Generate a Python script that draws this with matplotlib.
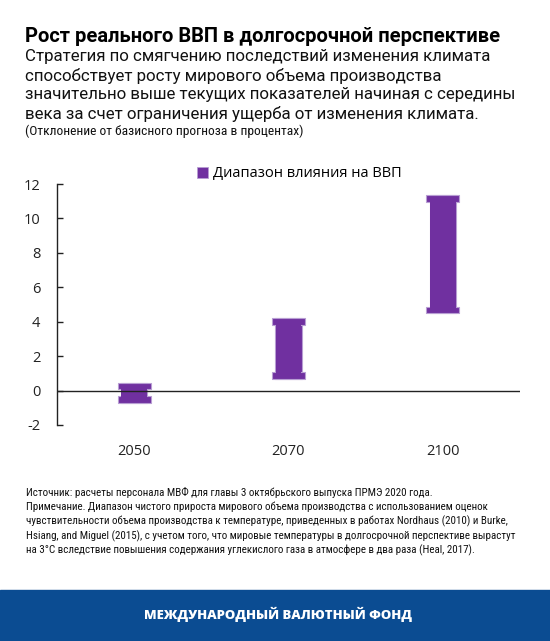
import matplotlib
matplotlib.use("Agg")
import matplotlib.pyplot as plt
from matplotlib import font_manager
from matplotlib.patches import Rectangle, Patch

# данные: диапазон влияния на ВВП, % от базисного прогноза
years = ["2050", "2070", "2100"]
low = [-0.7, 0.7, 4.5]
high = [0.45, 4.2, 11.35]
yticks = [-2, 0, 2, 4, 6, 8, 10, 12]

title = "Рост реального ВВП в долгосрочной перспективе"
subtitle = [
    "Стратегия по смягчению последствий изменения климата",
    "способствует росту мирового объема производства",
    "значительно выше текущих показателей начиная с середины",
    "века за счет ограничения ущерба от изменения климата.",
]
units = "(Отклонение от базисного прогноза в процентах)"
notes = [
    "Источник: расчеты персонала МВФ для главы 3 октябрьского выпуска ПРМЭ 2020 года.",
    "Примечание. Диапазон чистого прироста мирового объема производства с использованием оценок",
    "чувствительности объема производства к температуре, приведенных в работах Nordhaus (2010) и Burke,",
    "Hsiang, and Miguel (2015), с учетом того, что мировые температуры в долгосрочной перспективе вырастут",
    "на 3°C вследствие повышения содержания углекислого газа в атмосфере в два раза (Heal, 2017).",
]
legend_label = "Диапазон влияния на ВВП"
footer = "МЕЖДУНАРОДНЫЙ ВАЛЮТНЫЙ ФОНД"

purple = "#7030A0"
edge = "#B89ED3"
W, H = 550, 641


def narrow_font():
    # ищем узкий шрифт, если он есть
    for fam, st in [("Liberation Sans Narrow", "normal"), ("Roboto Condensed", "normal"),
                    ("DejaVu Sans", "condensed"), ("Noto Sans", "condensed")]:
        try:
            p = font_manager.findfont(font_manager.FontProperties(family=fam, stretch=st),
                                      fallback_to_default=False)
        except Exception:
            continue
        name = p.lower()
        if "narrow" in name or "condensed" in name:
            return fam, st
    return "Roboto", "normal"


nfam, nstretch = narrow_font()

fig = plt.figure(figsize=(W / 100, H / 100), dpi=100)
renderer = fig.canvas.get_renderer()


def fit(texts, target):
    # подгоняем размер шрифта под ширину строки из образца
    widest = max(t.get_window_extent(renderer).width for t in texts)
    for t in texts:
        t.set_fontsize(t.get_fontsize() * target / widest)


ax = fig.add_axes([57 / W, 1 - 425 / H, (520 - 57) / W, (425 - 184) / H])
x = list(range(len(years)))
for i in x:
    lo, hi = low[i], high[i]
    ax.bar(i, hi - lo, bottom=lo, width=0.17, color=purple, edgecolor=edge, linewidth=0.8, zorder=3)
    ax.bar(i, 0.38, bottom=hi - 0.38, width=0.215, color=purple, edgecolor=edge, linewidth=0.8, zorder=3)
    ax.bar(i, 0.38, bottom=lo, width=0.215, color=purple, edgecolor=edge, linewidth=0.8, zorder=3)
    ax.bar(i, hi - lo - 0.3, bottom=lo + 0.15, width=0.168, color=purple, linewidth=0, zorder=4)

ax.axhline(0, color="#222222", lw=1.0, zorder=5)
ax.set_xlim(-0.5, 2.5)
ax.set_ylim(-2, 12)
ax.set_yticks(yticks)
ax.set_yticklabels([str(v) for v in yticks], fontsize=10.5, family=["Open Sans", "DejaVu Sans"], color="#222222")
ax.set_xticks(x)
ax.set_xticklabels(years, fontsize=10.5, family=["Open Sans", "DejaVu Sans"], color="#222222")
for s in ["top", "right", "bottom"]:
    ax.spines[s].set_visible(False)
ax.spines["left"].set_color("#222222")
ax.spines["left"].set_linewidth(1.0)
ax.tick_params(axis="y", direction="in", length=4, width=1.0, pad=12, color="#222222")
ax.tick_params(axis="x", length=0, pad=14)

fig.legend(handles=[Patch(facecolor=purple, edgecolor=edge, linewidth=0.6)], labels=[legend_label],
           loc="center", bbox_to_anchor=(0.545, 1 - 174 / H), frameon=False,
           handlelength=0.7, handleheight=0.7, handletextpad=0.4,
           prop={"family": ["Open Sans", "DejaVu Sans"], "size": 10.5})

t_title = fig.text(25 / W, 1 - 36 / H, title, fontsize=14, fontweight="bold",
                   family=["Roboto", "DejaVu Sans"], va="center", ha="left")
fit([t_title], 478)

t_sub = []
for k, line in enumerate(subtitle):
    t_sub.append(fig.text(25 / W, 1 - (57 + k * 19) / H, line, fontsize=12, family=["Roboto", "DejaVu Sans"],
                          va="center", ha="left", color="#111111"))
fit(t_sub, 492)

t_units = fig.text(25 / W, 1 - 131 / H, units, fontsize=8.5, family=[nfam, "Roboto"], stretch=nstretch,
                   va="center", ha="left", color="#111111")
fit([t_units], 277)

t_notes = []
for k, line in enumerate(notes):
    t_notes.append(fig.text(26 / W, 1 - (492 + k * 14.6) / H, line, fontsize=8, family=[nfam, "Roboto"],
                            stretch=nstretch, va="center", ha="left", color="#111111"))
fit(t_notes, 491)

fig.patches.append(Rectangle((0, 0), 1, 51 / H, transform=fig.transFigure, color="#0B4C92", zorder=0))
t_foot = fig.text(277.5 / W, 1 - 614 / H, footer, fontsize=10.5, fontweight="heavy",
                  family=["Open Sans", "DejaVu Sans"], color="white", ha="center", va="center")
fit([t_foot], 269)

fig.savefig("out.png", dpi=100)
